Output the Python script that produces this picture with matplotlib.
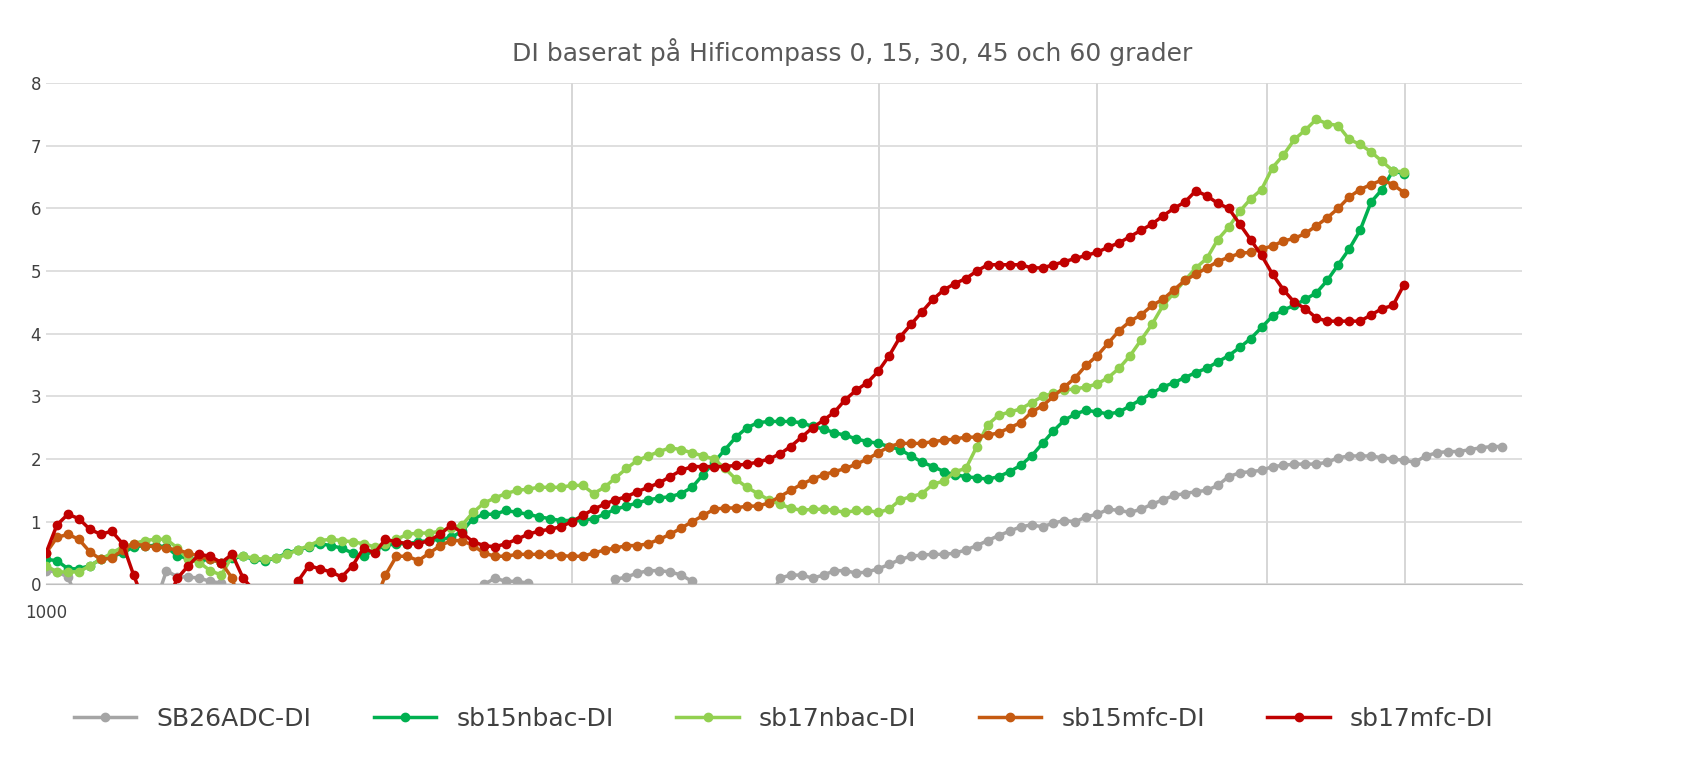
import numpy as np
import matplotlib
matplotlib.use("Agg")
import matplotlib.pyplot as plt

# values on a 1/48-octave grid starting at 1000 Hz (negative = below visible range)
sb26adc = [0.22,0.2,0.12,-0.3,-1,-1,-1,-1,-1,-1,
           -0.3,0.22,0.12,0.12,0.1,0.05,0.02,-0.3,-1,-1,
           -1,-1,-0.3,0.02,-0.3,-1,-1,-1,-1,-1,
           -1,-1,-1,-1,-1,-1,-1,-1,-1,-0.3,
           0.0,0.1,0.05,0.05,0.02,-0.3,-1,-1,-1,-1,
           -1,-0.3,0.08,0.12,0.18,0.22,0.22,0.2,0.15,0.05,
           -0.4,-1,-1,-1,-1,-1,-0.3,0.1,0.15,0.15,
           0.1,0.15,0.22,0.22,0.18,0.2,0.25,0.32,0.4,0.45,
           0.47,0.48,0.48,0.5,0.55,0.62,0.7,0.78,0.85,0.92,
           0.95,0.92,0.98,1.02,1.0,1.08,1.12,1.2,1.18,1.15,
           1.2,1.28,1.35,1.42,1.45,1.48,1.5,1.58,1.72,1.78,
           1.8,1.82,1.88,1.9,1.92,1.92,1.92,1.95,2.02,2.05,
           2.05,2.05,2.02,2.0,1.98,1.95,2.05,2.1,2.12,2.12,
           2.15,2.18,2.2,2.2]
sb15nbac = [0.4,0.38,0.25,0.25,0.3,0.4,0.45,0.5,0.6,0.62,
            0.62,0.6,0.45,0.42,0.38,0.4,0.35,0.42,0.45,0.4,
            0.38,0.42,0.5,0.55,0.6,0.65,0.62,0.58,0.5,0.45,
            0.55,0.62,0.65,0.65,0.68,0.7,0.72,0.75,0.85,1.05,
            1.12,1.12,1.18,1.15,1.12,1.08,1.05,1.02,1.02,1.02,
            1.05,1.12,1.2,1.25,1.3,1.35,1.38,1.4,1.45,1.55,
            1.75,1.95,2.15,2.35,2.5,2.58,2.6,2.6,2.6,2.58,
            2.52,2.48,2.42,2.38,2.32,2.28,2.25,2.2,2.15,2.05,
            1.95,1.88,1.8,1.75,1.72,1.7,1.68,1.72,1.8,1.9,
            2.05,2.25,2.45,2.62,2.72,2.78,2.75,2.72,2.75,2.85,
            2.95,3.05,3.15,3.22,3.3,3.38,3.45,3.55,3.65,3.78,
            3.92,4.1,4.28,4.38,4.45,4.55,4.65,4.85,5.1,5.35,
            5.65,6.1,6.3,6.6,6.55]
sb17nbac = [0.3,0.2,0.2,0.2,0.3,0.4,0.5,0.6,0.65,0.7,
            0.72,0.72,0.58,0.4,0.35,0.22,0.15,0.45,0.45,0.42,
            0.4,0.42,0.48,0.55,0.62,0.7,0.72,0.7,0.68,0.65,
            0.6,0.65,0.72,0.8,0.82,0.82,0.85,0.9,0.95,1.15,
            1.3,1.38,1.45,1.5,1.52,1.55,1.55,1.55,1.58,1.58,
            1.45,1.55,1.7,1.85,1.98,2.05,2.12,2.18,2.15,2.1,
            2.05,2.0,1.85,1.68,1.55,1.45,1.35,1.28,1.22,1.18,
            1.2,1.2,1.18,1.15,1.18,1.18,1.15,1.2,1.35,1.4,
            1.45,1.6,1.65,1.8,1.85,2.2,2.55,2.7,2.75,2.8,
            2.9,3.0,3.05,3.1,3.12,3.15,3.2,3.3,3.45,3.65,
            3.9,4.15,4.45,4.65,4.85,5.05,5.2,5.5,5.7,5.95,
            6.15,6.3,6.65,6.85,7.1,7.25,7.42,7.35,7.32,7.1,
            7.02,6.9,6.75,6.6,6.58]
sb15mfc = [0.5,0.75,0.8,0.72,0.52,0.4,0.42,0.55,0.65,0.62,
           0.6,0.58,0.55,0.5,0.45,0.4,0.35,0.1,-0.5,-1,
           -1,-1,-1,-1,-1,-1,-1,-1,-1,-1,
           -0.3,0.15,0.45,0.45,0.38,0.5,0.62,0.7,0.7,0.62,
           0.5,0.45,0.45,0.48,0.48,0.48,0.48,0.46,0.45,0.45,
           0.5,0.55,0.58,0.62,0.62,0.65,0.72,0.8,0.9,1.0,
           1.1,1.2,1.22,1.22,1.25,1.25,1.3,1.4,1.5,1.6,
           1.68,1.75,1.8,1.85,1.92,2.0,2.1,2.2,2.25,2.25,
           2.25,2.28,2.3,2.32,2.35,2.35,2.38,2.42,2.5,2.58,
           2.75,2.85,3.0,3.15,3.3,3.5,3.65,3.85,4.05,4.2,
           4.3,4.45,4.55,4.7,4.85,4.95,5.05,5.15,5.22,5.28,
           5.3,5.35,5.4,5.48,5.52,5.6,5.72,5.85,6.0,6.18,
           6.3,6.38,6.45,6.38,6.25]
sb17mfc = [0.5,0.95,1.12,1.05,0.88,0.8,0.85,0.65,0.15,-0.3,
           -0.5,-0.3,0.1,0.3,0.48,0.45,0.35,0.48,0.1,-0.1,
           -0.3,-0.4,-0.2,0.05,0.3,0.25,0.2,0.12,0.3,0.58,
           0.5,0.72,0.68,0.65,0.65,0.7,0.8,0.95,0.82,0.68,
           0.62,0.6,0.65,0.72,0.8,0.85,0.88,0.92,1.0,1.1,
           1.2,1.28,1.35,1.4,1.48,1.55,1.62,1.72,1.82,1.88,
           1.88,1.88,1.88,1.9,1.92,1.95,2.0,2.08,2.2,2.35,
           2.5,2.62,2.75,2.95,3.1,3.22,3.4,3.65,3.95,4.15,
           4.35,4.55,4.7,4.8,4.88,5.0,5.1,5.1,5.1,5.1,
           5.05,5.05,5.1,5.15,5.2,5.25,5.3,5.38,5.45,5.55,
           5.65,5.75,5.88,6.0,6.1,6.28,6.2,6.08,6.0,5.75,
           5.5,5.25,4.95,4.7,4.5,4.4,4.25,4.2,4.2,4.2,
           4.2,4.3,4.4,4.45,4.78]

series = [("SB26ADC-DI", sb26adc, "#A5A5A5"),
          ("sb15nbac-DI", sb15nbac, "#00B050"),
          ("sb17nbac-DI", sb17nbac, "#92D050"),
          ("sb15mfc-DI", sb15mfc, "#C55A11"),
          ("sb17mfc-DI", sb17mfc, "#C00000")]

fig = plt.figure(figsize=(17.04, 7.61), dpi=100)
ax = fig.add_axes([0.027, 0.232, 0.866, 0.659])
for name, vals, col in series:
    f = 1000 * 2 ** (np.arange(len(vals)) / 48)
    ax.plot(f, vals, color=col, lw=2.5, marker="o", ms=6, label=name)
ax.set_xscale("log")
ax.set_xlim(1000, 7000)
ax.set_ylim(0, 8)
ax.set_xticks([1000]); ax.set_xticklabels(["1000"])
ax.xaxis.set_minor_locator(matplotlib.ticker.NullLocator())
for g in [2000, 3000, 4000, 5000, 6000]:
    ax.axvline(g, color="#D0D0D0", lw=1.2, zorder=0)
ax.set_yticks(range(9))
ax.yaxis.grid(True, color="#D9D9D9", lw=1.2, zorder=0)
ax.set_axisbelow(True)
ax.tick_params(axis="both", length=0, labelsize=12, colors="#404040")
ax.tick_params(axis="x", pad=14)
for s in ["top", "right", "left"]:
    ax.spines[s].set_visible(False)
ax.spines["bottom"].set_color("#BFBFBF")
fig.suptitle("DI baserat på Hificompass 0, 15, 30, 45 och 60 grader", y=0.95, fontsize=18, color="#595959")
fig.legend(loc="lower center", ncol=5, frameon=False, fontsize=18, bbox_to_anchor=(0.46, 0.01),
           handlelength=2.5, columnspacing=2.5, labelcolor="#404040")
fig.savefig("out.png")
